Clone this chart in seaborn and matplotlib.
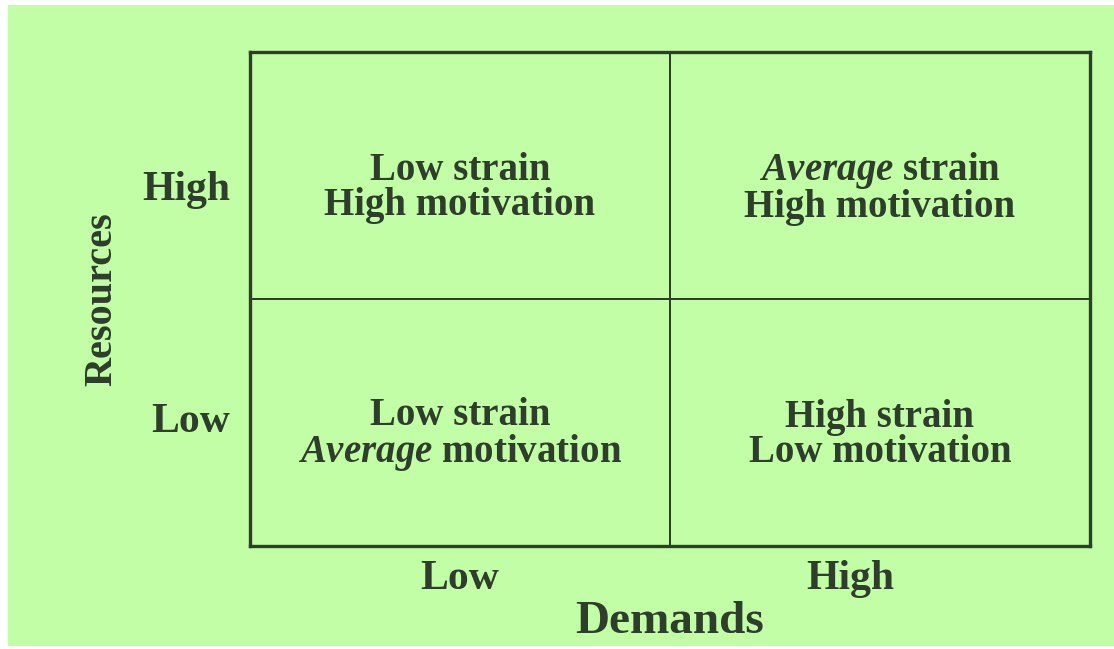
import matplotlib
matplotlib.use("Agg")
import matplotlib.pyplot as plt
import numpy as np
import seaborn as sns
from matplotlib.colors import ListedColormap
from matplotlib.patches import Rectangle

# quadrant model: demands (columns) x resources (rows)
demand_levels = ["Low", "High"]
resource_levels = ["High", "Low"]
strain_labels = [["Low", "Average"], ["Low", "High"]]
motivation_labels = [["High", "High"], ["Average", "Low"]]
cells = np.zeros((2, 2))

GREEN = "#c1fea5"
INK = "#2e3d2c"

sns.set_theme(style="white")
plt.rcParams["font.family"] = ["Liberation Serif", "DejaVu Serif"]
plt.rcParams["font.weight"] = "bold"
plt.rcParams["axes.labelweight"] = "bold"
plt.rcParams["mathtext.fontset"] = "custom"
plt.rcParams["mathtext.rm"] = "Liberation Serif:bold"
plt.rcParams["mathtext.it"] = "Liberation Serif:italic:bold"
plt.rcParams["text.color"] = INK


def word(label):
    # "Average" is set in italics in the original
    if label == "Average":
        return r"$\mathit{Average}$"
    return label


fig = plt.figure(figsize=(11.14, 6.49), dpi=100, facecolor="white")
fig.add_artist(Rectangle((8 / 1114, 3 / 649), 1, 641 / 649,
                         transform=fig.transFigure, facecolor=GREEN,
                         edgecolor="none", zorder=0))

ax = fig.add_axes([0.2244, 0.1587, 0.7540, 0.7612])
sns.heatmap(cells, ax=ax, cmap=ListedColormap([GREEN]), cbar=False,
            linewidths=1.2, linecolor=INK,
            xticklabels=demand_levels, yticklabels=resource_levels)

for spine in ax.spines.values():
    spine.set_visible(True)
    spine.set_color(INK)
    spine.set_linewidth(2.4)

for r in range(2):
    for c in range(2):
        label = (f"{word(strain_labels[r][c])} strain\n"
                 f"{word(motivation_labels[r][c])} motivation")
        ax.text(c + 0.5, r + 0.55, label, ha="center", va="center",
                multialignment="center", linespacing=0.95,
                fontsize=28, color=INK)

ax.set_xticks([0.5, 1.43])
ax.set_xticklabels(demand_levels)
ax.set_yticks([0.56, 1.5])
ax.set_yticklabels(resource_levels, rotation=0)
ax.tick_params(axis="both", length=0, labelsize=30, labelcolor=INK)
ax.tick_params(axis="x", pad=10)
ax.tick_params(axis="y", pad=14)

ax.set_xlabel("Demands", fontsize=34, fontweight="bold", color=INK,
              labelpad=2)
ax.set_ylabel("Resources", fontsize=29, fontweight="bold", color=INK,
              labelpad=16)

fig.savefig("out.png", dpi=100, facecolor=fig.get_facecolor())
